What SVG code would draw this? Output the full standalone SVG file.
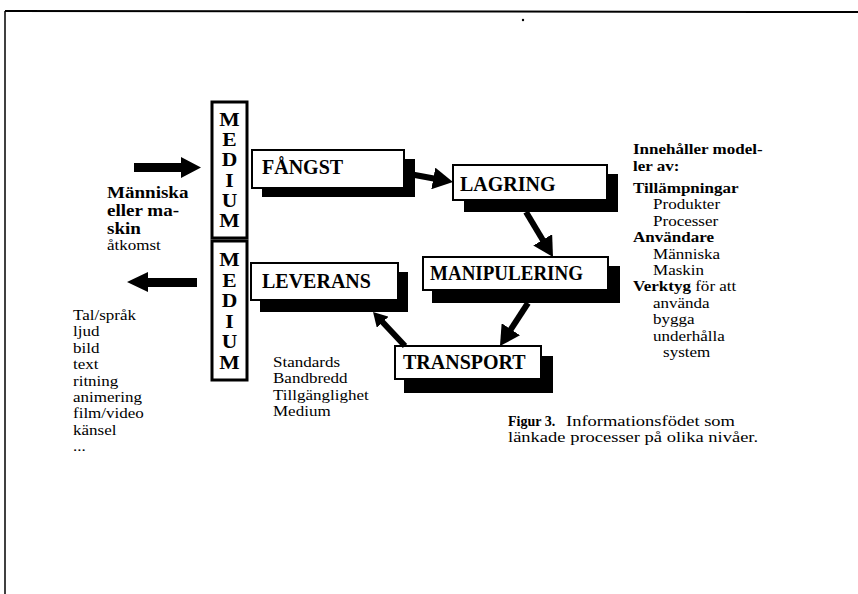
<svg xmlns="http://www.w3.org/2000/svg" width="858" height="594" viewBox="0 0 858 594">
<style>
.t{font-family:"Liberation Serif","Times New Roman",serif;font-size:14.8px;fill:#000}
.b{font-weight:bold}
.big{font-size:16px}
.lbl{font-family:"Liberation Serif","Times New Roman",serif;font-size:20px;font-weight:bold;fill:#000}
.med{font-family:"Liberation Serif","Times New Roman",serif;font-size:18px;font-weight:bold;fill:#000;text-anchor:middle}
.box{fill:#fff;stroke:#000;stroke-width:2}
.shadow{fill:#000}
.mbox{fill:#fff;stroke:#000;stroke-width:3}
.conn{stroke:#000;stroke-width:6;fill:none}
</style>
<defs>
<marker id="head" markerUnits="userSpaceOnUse" markerWidth="22" markerHeight="22" refX="6" refY="11" orient="auto">
<path d="M0,0 L20,11 L0,22 z" fill="#000"/>
</marker>
<marker id="headS" markerUnits="userSpaceOnUse" markerWidth="16" markerHeight="16" refX="4" refY="8" orient="auto">
<path d="M0,0 L14,8 L0,16 z" fill="#000"/>
</marker>
</defs>
<rect width="858" height="594" fill="#fff"/>
<g id="frame">
<line x1="5" y1="11" x2="858" y2="12" stroke="#000" stroke-width="2"/>
<line x1="5" y1="11" x2="5" y2="594" stroke="#000" stroke-width="1.5"/>
<circle cx="523" cy="20" r="1.2" fill="#000"/>
</g>
<g id="medium-in">
<rect class="mbox" x="212" y="102" width="35" height="136"/>
<text class="med" transform="matrix(1.2,0,0,1,-45.9,0)"><tspan x="229.5" y="126">M</tspan><tspan x="229.5" y="146.2">E</tspan><tspan x="229.5" y="166.4">D</tspan><tspan x="229.5" y="186.6">I</tspan><tspan x="229.5" y="206.8">U</tspan><tspan x="229.5" y="227">M</tspan></text>
</g>
<g id="medium-out">
<rect class="mbox" x="212" y="241" width="35" height="139"/>
<text class="med" transform="matrix(1.2,0,0,1,-45.9,0)"><tspan x="229.5" y="266">M</tspan><tspan x="229.5" y="286.6">E</tspan><tspan x="229.5" y="307.2">D</tspan><tspan x="229.5" y="327.8">I</tspan><tspan x="229.5" y="348.4">U</tspan><tspan x="229.5" y="369">M</tspan></text>
</g>
<g id="fangst">
<rect class="shadow" x="262" y="159" width="153" height="38"/>
<rect class="box" x="252" y="150" width="152" height="38"/>
<text class="lbl" x="262" y="174">FÅNGST</text>
</g>
<g id="lagring">
<rect class="shadow" x="464" y="174" width="154" height="38"/>
<rect class="box" x="453" y="165" width="154" height="35"/>
<text class="lbl" x="460" y="191">LAGRING</text>
</g>
<g id="manipulering">
<rect class="shadow" x="432" y="266" width="188" height="37"/>
<rect class="box" x="423" y="257" width="185" height="33"/>
<text class="lbl" x="430" y="280" textLength="153" lengthAdjust="spacingAndGlyphs">MANIPULERING</text>
</g>
<g id="leverans">
<rect class="shadow" x="260" y="272" width="148" height="40"/>
<rect class="box" x="251" y="263" width="147" height="37"/>
<text class="lbl" x="262" y="288">LEVERANS</text>
</g>
<g id="transport">
<rect class="shadow" x="404" y="356" width="149" height="37"/>
<rect class="box" x="395" y="346" width="146" height="33"/>
<text class="lbl" x="403" y="369">TRANSPORT</text>
</g>
<g id="connectors">
<polygon points="134,163 181,163 181,157 201,167.5 181,178 181,172 134,172" fill="#000"/>
<polygon points="197,278 148,278 148,272 127,282 148,292 148,287 197,287" fill="#000"/>
<line class="conn" x1="404" y1="173" x2="439.2" y2="179.5" marker-end="url(#head)"/>
<line class="conn" x1="526" y1="212" x2="545.8" y2="245" marker-end="url(#head)"/>
<line class="conn" x1="528" y1="303" x2="507.6" y2="334.3" marker-end="url(#head)"/>
<line class="conn" x1="405" y1="346" x2="379.9" y2="319.3" stroke-width="5" marker-end="url(#headS)"/>
</g>
<g id="access-text">
<text class="t b big" transform="matrix(1.19,0,0,1,-20.33,0)"><tspan x="107" y="198">Människa</tspan><tspan x="107" y="215.8">eller ma-</tspan><tspan x="107" y="233.6">skin</tspan></text>
<text class="t" x="107" y="250.5" transform="matrix(1.15,0,0,1,-16.05,0)">åtkomst</text>
</g>
<g id="media-list">
<text class="t" transform="matrix(1.15,0,0,1,-10.95,0)"><tspan x="73" y="320">Tal/språk</tspan><tspan x="73" y="336.4">ljud</tspan><tspan x="73" y="352.8">bild</tspan><tspan x="73" y="369.2">text</tspan><tspan x="73" y="385.6">ritning</tspan><tspan x="73" y="402">animering</tspan><tspan x="73" y="418.4">film/video</tspan><tspan x="73" y="434.8">känsel</tspan><tspan x="73" y="451.2">...</tspan></text>
</g>
<g id="transport-notes">
<text class="t" transform="matrix(1.15,0,0,1,-40.95,0)"><tspan x="273" y="367">Standards</tspan><tspan x="273" y="383.4">Bandbredd</tspan><tspan x="273" y="399.8">Tillgänglighet</tspan><tspan x="273" y="416.2">Medium</tspan></text>
</g>
<g id="models-text">
<text class="t" transform="matrix(1.15,0,0,1,-94.95,0)"><tspan class="b" x="633" y="154">Innehåller model-</tspan><tspan class="b" x="633" y="171">ler av:</tspan><tspan class="b" x="633" y="193">Tillämpningar</tspan><tspan x="650.4" y="209.4">Produkter</tspan><tspan x="650.4" y="225.8">Processer</tspan><tspan class="b" x="633" y="242.2">Användare</tspan><tspan x="650.4" y="258.6">Människa</tspan><tspan x="650.4" y="275">Maskin</tspan><tspan class="b" x="633" y="291.4">Verktyg</tspan><tspan> för att</tspan><tspan x="650.4" y="307.8">använda</tspan><tspan x="650.4" y="324.2">bygga</tspan><tspan x="650.4" y="340.6">underhålla</tspan><tspan x="659.1" y="357">system</tspan></text>
</g>
<g id="caption">
<text class="t b" x="508" y="426" style="font-size:14px">Figur 3.</text>
<text class="t" x="566" y="426" transform="matrix(1.25,0,0,1,-141.5,0)">Informationsfödet som</text>
<text class="t" x="508" y="442.4" transform="matrix(1.25,0,0,1,-127,0)">länkade processer på olika nivåer.</text>
</g>
</svg>
